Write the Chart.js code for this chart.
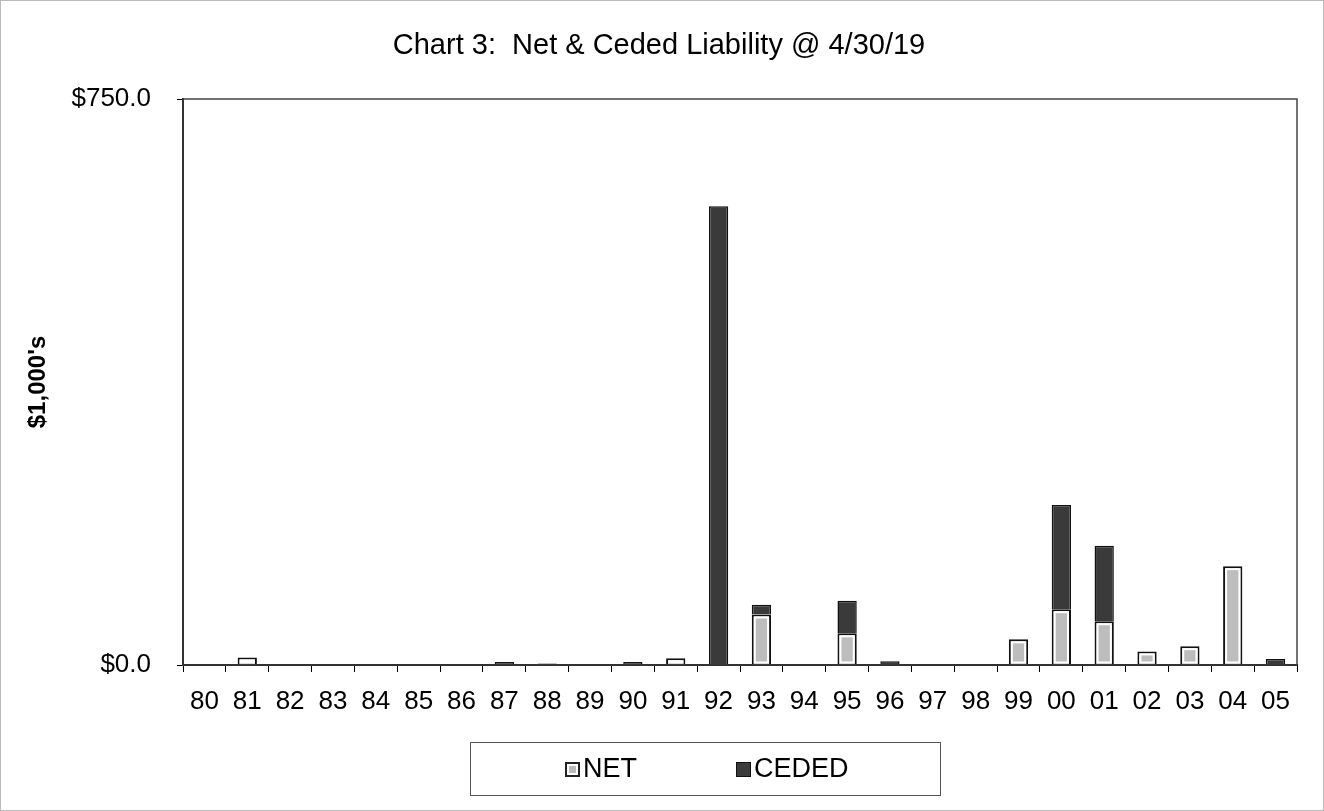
<!DOCTYPE html>
<html>
<head>
<meta charset="utf-8">
<script src="https://cdn.jsdelivr.net/npm/chart.js@4"></script>
<style>
    html, body { margin: 0; padding: 0; background: #fff; }
    #wrap { position: relative; width: 1322px; height: 809px; border: 1px solid #bbb; }
    #legend {
        position: absolute; left: 469px; top: 741px; width: 471px; height: 54px;
        border: 1px solid #555; box-sizing: border-box;
        font-family: Arial, 'Liberation Sans', sans-serif; font-size: 27px; color: #000;
    }
    .item { position: absolute; top: 10px; line-height: 31px; }
    .sw { display: inline-block; width: 15px; height: 15px; margin-right: 3px; vertical-align: 0px; box-sizing: border-box; }
</style>
</head>
<body>
<div id="wrap">
    <canvas id="chart" width="1322" height="809"></canvas>
    <div id="legend">
        <span class="item" style="left:94px"><span class="sw" style="border:2px solid #222;background:#bbb;box-shadow:inset 0 0 0 2px #fff"></span>NET</span>
        <span class="item" style="left:265px"><span class="sw" style="border:1px solid #111;background:#3a3a3a"></span>CEDED</span>
    </div>
</div>
<script>
const years = ['80','81','82','83','84','85','86','87','88','89','90','91','92','93','94','95','96','97','98','99','00','01','02','03','04','05'];
const netValues   = [0, 10, 0, 0, 0, 0, 0, 0, 0, 0, 0, 9, 0, 67, 0, 42, 0, 0, 0, 34, 74, 58, 18, 25, 131, 0];
const cededValues = [1, 0, 1, 1, 1, 1, 1, 4, 2, 1, 4, 0, 608, 13, 1, 43, 5, 0.5, 1, 0, 138, 100, 0, 0, 0, 8];
const yTicks = [0, 750];

const font = "Arial, 'Liberation Sans', sans-serif";

// white inner outline on the NET bars, like the original
const innerLine = {
    id: 'innerLine',
    afterDatasetsDraw(chart) {
        const ctx = chart.ctx;
        chart.getDatasetMeta(0).data.forEach(bar => {
            const h = bar.base - bar.y;
            if (h < 6) return;
            const w = bar.width;
            ctx.save();
            ctx.strokeStyle = '#fff';
            ctx.lineWidth = 2;
            ctx.strokeRect(bar.x - w / 2 + 3, bar.y + 3, w - 6, h - 5);
            ctx.restore();
        });
    }
};

// box round the plot area
const frame = {
    id: 'frame',
    afterDraw(chart) {
        const a = chart.chartArea;
        const ctx = chart.ctx;
        ctx.save();
        ctx.strokeStyle = '#444';
        ctx.lineWidth = 1.5;
        ctx.strokeRect(a.left, a.top, a.right - a.left, a.bottom - a.top);
        ctx.restore();
    }
};

new Chart(document.getElementById('chart').getContext('2d'), {
    type: 'bar',
    data: {
        labels: years,
        datasets: [
            {
                label: 'NET',
                data: netValues,
                backgroundColor: '#bdbdbd',
                borderColor: '#111',
                borderWidth: 2,
                barPercentage: 0.45,
                categoryPercentage: 1
            },
            {
                label: 'CEDED',
                data: cededValues,
                backgroundColor: '#3a3a3a',
                borderColor: '#111',
                borderWidth: 1.5,
                barPercentage: 0.45,
                categoryPercentage: 1
            }
        ]
    },
    plugins: [innerLine, frame],
    options: {
        responsive: false,
        animation: false,
        layout: { padding: { left: 20, right: 26, top: 20, bottom: 88 } },
        plugins: {
            legend: { display: false },
            tooltip: { enabled: false },
            title: {
                display: true,
                text: 'Chart 3:  Net & Ceded Liability @ 4/30/19',
                color: '#000',
                font: { family: font, size: 29, weight: 'normal' },
                padding: { top: 8, bottom: 35.2 }
            }
        },
        scales: {
            x: {
                stacked: true,
                grid: { display: true, drawOnChartArea: false, drawTicks: true, tickLength: 7, color: '#000', offset: true },
                border: { display: true, color: '#000', width: 2 },
                ticks: { color: '#000', padding: 14, maxRotation: 0, autoSkip: false, font: { family: font, size: 26 } },
                afterFit(scale) { scale.height = 57; }
            },
            y: {
                stacked: true,
                min: 0,
                max: 750,
                grid: { display: true, drawOnChartArea: false, drawTicks: true, tickLength: 6, color: '#000' },
                border: { display: true, color: '#000', width: 2 },
                afterBuildTicks(scale) { scale.ticks = yTicks.map(v => ({ value: v })); },
                ticks: {
                    color: '#000',
                    padding: 26,
                    font: { family: font, size: 26 },
                    callback: v => '$' + Number(v).toFixed(1)
                },
                title: {
                    display: true,
                    text: "$1,000's",
                    color: '#000',
                    font: { family: font, size: 24, weight: 'bold' },
                    padding: { top: 3, bottom: 0 }
                },
                afterFit(scale) { scale.width = 162; }
            }
        }
    }
});
</script>
</body>
</html>
